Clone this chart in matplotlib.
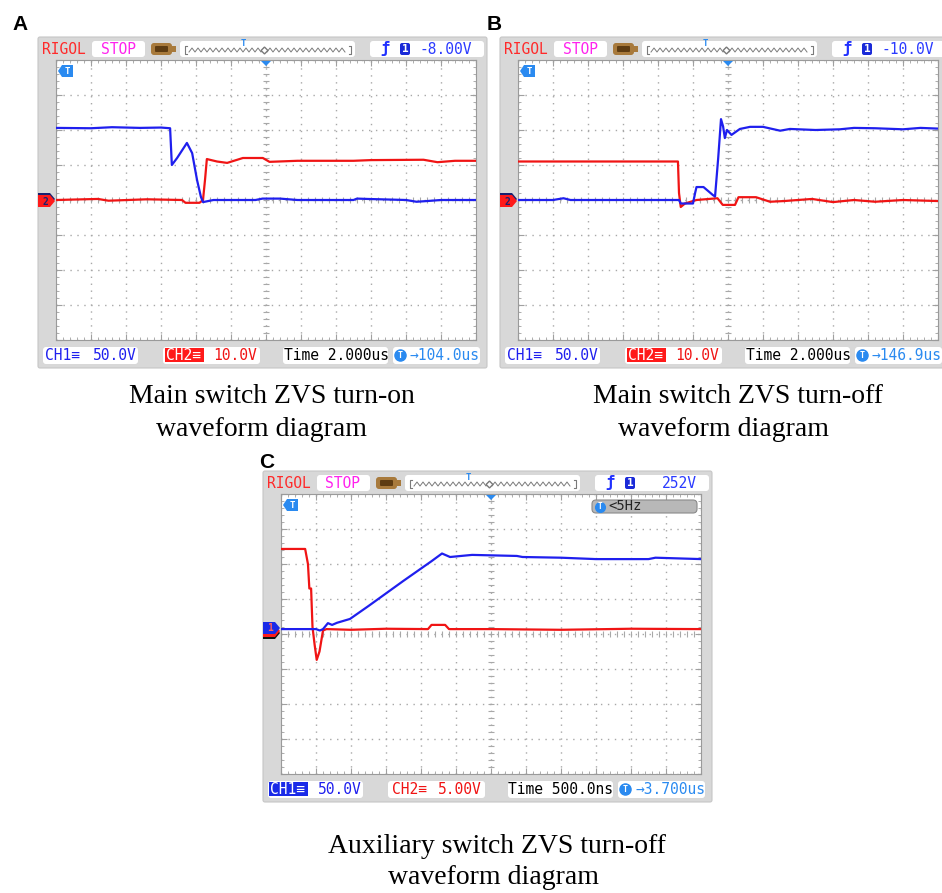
import numpy as np
import matplotlib.pyplot as plt
from matplotlib.patches import Rectangle, FancyBboxPatch, Polygon
from matplotlib.ticker import MultipleLocator

W, H = 942, 893

# waveforms: time in divisions (0..12), level in divisions from screen centre
a_blue_t = [0, 1.0, 1.6, 2.4, 3.0, 3.26, 3.31, 3.46, 3.74, 3.89, 4.03, 4.14, 4.2, 4.5,
            5.7, 5.9, 6.4, 6.9, 8.5, 8.6, 8.9, 10.0, 10.3, 10.6, 11.0, 12.0]
a_blue_v = [2.06, 2.05, 2.08, 2.06, 2.07, 2.05, 1.0, 1.2, 1.63, 1.34, 0.57, 0.09, -0.06, 0.0,
            0.0, 0.04, 0.04, 0.0, 0.0, 0.04, 0.03, 0.0, -0.05, -0.03, 0.0, 0.0]
a_red_t = [0, 1.2, 1.5, 2.6, 3.6, 3.7, 4.1, 4.2, 4.26, 4.31, 4.6, 4.89, 5.34, 5.91, 6.1,
           6.9, 7.46, 8.5, 9.0, 10.5, 10.9, 11.4, 12]
a_red_v = [0, 0.03, -0.02, 0.02, 0, -0.08, -0.08, 0.0, 0.6, 1.17, 1.1, 1.06, 1.2, 1.2, 1.09,
           1.12, 1.12, 1.12, 1.14, 1.15, 1.08, 1.12, 1.12]

b_blue_t = [0, 1.0, 1.3, 1.5, 4.6, 4.65, 5.0, 5.06, 5.1, 5.3, 5.57, 5.63, 5.72, 5.8, 5.86,
            5.91, 5.97, 6.1, 6.34, 6.63, 7.0, 7.49, 7.77, 8.5, 9.2, 9.6, 10.2, 11.0, 11.5, 12]
b_blue_v = [0, 0, 0.05, 0, 0, -0.1, -0.1, 0.2, 0.37, 0.37, 0.14, 0.1, 1.2, 2.31, 2.1,
            1.77, 2.0, 1.86, 2.03, 2.09, 2.09, 1.98, 2.03, 2.0, 2.02, 2.06, 2.05, 2.02, 2.06, 2.04]
b_red_t = [0, 4.57, 4.6, 4.65, 4.77, 5.1, 5.7, 5.85, 6.2, 6.3, 6.8, 7.2, 7.6, 8.4, 9.0,
           9.6, 10.2, 11.0, 12]
b_red_v = [1.1, 1.1, 0.2, -0.2, -0.1, 0, 0.05, -0.14, -0.14, 0.08, 0.08, -0.05, -0.03, 0.03,
           -0.06, 0.0, -0.05, 0.0, -0.03]

c_blue_t = [0, 1.0, 1.11, 1.2, 1.34, 1.46, 1.6, 1.97, 2.5, 3.0, 3.5, 4.0, 4.3, 4.6, 4.83,
            5.46, 6.74, 6.9, 8.0, 9.0, 10.5, 10.7, 12]
c_blue_v = [0.14, 0.14, 0.1, 0.14, 0.31, 0.26, 0.32, 0.43, 0.8, 1.16, 1.52, 1.87, 2.08, 2.3,
            2.2, 2.26, 2.23, 2.2, 2.18, 2.14, 2.14, 2.18, 2.14]
c_red_t = [0, 0.69, 0.77, 0.81, 0.86, 0.9, 0.96, 1.02, 1.1, 1.2, 1.3, 2.0, 3.0, 4.2, 4.3,
           4.69, 4.8, 6.0, 8.0, 10.0, 12]
c_red_v = [2.43, 2.43, 2.0, 1.3, 1.3, 0.2, -0.3, -0.74, -0.5, 0.1, 0.14, 0.12, 0.15, 0.14,
           0.26, 0.26, 0.14, 0.14, 0.12, 0.15, 0.14]

traces = [(a_blue_t, a_blue_v, a_red_t, a_red_v),
          (b_blue_t, b_blue_v, b_red_t, b_red_v),
          (c_blue_t, c_blue_v, c_red_t, c_red_v)]

# screen texts
panel_labels = ['A', 'B', 'C']
trig_levels = ['-8.00V', '-10.0V', '252V']
ch1_scales = ['50.0V', '50.0V', '50.0V']
ch2_scales = ['10.0V', '10.0V', '5.00V']
time_bases = ['2.000us', '2.000us', '500.0ns']
trig_offsets = ['104.0us', '146.9us', '3.700us']
captions = [('Main switch ZVS turn-on', 'waveform diagram'),
            ('Main switch ZVS turn-off', 'waveform diagram'),
            ('Auxiliary switch ZVS turn-off', 'waveform diagram')]

# grid top-left corner of each screen, in pixels
grid_pos = [(56, 60), (518, 60), (281, 494)]

MONO = 'DejaVu Sans Mono'
BLUE = '#1f1fee'
RED = '#f01414'
LBLUE = '#2a8af0'

fig = plt.figure(figsize=(W / 100, H / 100), dpi=100)
bg = fig.add_axes([0, 0, 1, 1])
bg.set_xlim(0, W)
bg.set_ylim(H, 0)
bg.axis('off')


def rbox(ax, x0, y0, x1, y1, fc, r=3, ec='none', z=2):
    ax.add_patch(FancyBboxPatch((x0, y0), x1 - x0, y1 - y0,
                                boxstyle=f'round,pad=0,rounding_size={r}',
                                fc=fc, ec=ec, lw=0.8, zorder=z))


def txt(ax, x, y, s, c, size=10, ha='left', **kw):
    ax.text(x, y, s, color=c, fontsize=size, ha=ha, va='center', family=MONO, zorder=5, **kw)


for i, (gx, gy) in enumerate(grid_pos):
    # scope body
    rbox(bg, gx - 18, gy - 23, gx + 431, gy + 308, '#d8d8d8', r=2, ec='#c6c6c6', z=1)

    # header row
    hy = gy - 11
    txt(bg, gx - 14, hy, 'RIGOL', '#ff2a2a', 10.5)
    rbox(bg, gx + 36, hy - 8, gx + 89, hy + 8, 'white')
    txt(bg, gx + 62, hy, 'STOP', '#ff22ee', 10.5, ha='center')
    rbox(bg, gx + 95, hy - 6, gx + 116, hy + 6, '#a87a3c', r=3)
    rbox(bg, gx + 99, hy - 3, gx + 112, hy + 3, '#5e3c12', r=1, z=3)
    bg.add_patch(Rectangle((gx + 116, hy - 3), 4, 6, fc='#a87a3c', zorder=2))
    rbox(bg, gx + 124, hy - 8, gx + 299, hy + 8, 'white')
    zx = np.arange(gx + 133, gx + 291, 3.0)
    zy = hy + 1 + 2.0 * (-1) ** np.arange(len(zx))
    bg.plot(zx, zy, color='#7a7a7a', lw=0.7, zorder=4)
    bg.plot([gx + 131, gx + 129, gx + 129, gx + 131], [hy - 3, hy - 3, hy + 5, hy + 5],
            color='#7a7a7a', lw=0.8, zorder=4)
    bg.plot([gx + 293, gx + 295, gx + 295, gx + 293], [hy - 3, hy - 3, hy + 5, hy + 5],
            color='#7a7a7a', lw=0.8, zorder=4)
    txt(bg, gx + 187, hy - 6, 'T', LBLUE, 6.5, ha='center', weight='bold')
    bg.plot([gx + 208], [hy + 1], marker='D', ms=3.5, mfc='white', mec='#7a7a7a', zorder=5)
    rbox(bg, gx + 314, hy - 8, gx + 428, hy + 8, 'white')
    txt(bg, gx + 329, hy, 'ƒ', '#2030ff', 11, ha='center', weight='bold')
    rbox(bg, gx + 344, hy - 6, gx + 354, hy + 6, '#1a2ad8', r=2, z=3)
    txt(bg, gx + 349, hy, '1', 'white', 8, ha='center', weight='bold')
    txt(bg, gx + 416, hy, trig_levels[i], '#2b3bff', 10.5, ha='right')

    # footer row
    fy = gy + 295
    rbox(bg, gx - 13, fy - 8, gx + 82, fy + 9, 'white')
    rbox(bg, gx + 107, fy - 8, gx + 204, fy + 9, 'white')
    rbox(bg, gx + 227, fy - 8, gx + 332, fy + 9, 'white')
    rbox(bg, gx + 337, fy - 8, gx + 424, fy + 9, 'white')
    if i == 2:
        bg.add_patch(Rectangle((gx - 12, fy - 7), 39, 14, fc='#1a2ae8', zorder=3))
        txt(bg, gx - 11, fy, 'CH1≡', 'white', 10.5)
        txt(bg, gx + 111, fy, 'CH2≡', RED, 10.5)
    else:
        txt(bg, gx - 11, fy, 'CH1≡', BLUE, 10.5)
        bg.add_patch(Rectangle((gx + 109, fy - 7), 39, 14, fc='#ff1a1a', zorder=3))
        txt(bg, gx + 110, fy, 'CH2≡', 'white', 10.5)
    txt(bg, gx + 81, fy, ch1_scales[i], BLUE, 10.5, ha='right')
    txt(bg, gx + 201, fy, ch2_scales[i], RED, 10.5, ha='right')
    txt(bg, gx + 280, fy, 'Time ' + time_bases[i], 'black', 10.5, ha='center')
    bg.plot([gx + 344], [fy], marker='o', ms=8, color=LBLUE, zorder=4)
    txt(bg, gx + 344, fy, 'T', 'white', 6, ha='center', weight='bold')
    txt(bg, gx + 424, fy, '→' + trig_offsets[i], LBLUE, 10.5, ha='right')

    # screen
    ax = fig.add_axes([gx / W, 1 - (gy + 280) / H, 420 / W, 280 / H])
    ax.set_xlim(0, 12)
    ax.set_ylim(-4, 4)
    ax.set_xticks(range(13))
    ax.set_yticks(range(-4, 5))
    ax.xaxis.set_minor_locator(MultipleLocator(0.2))
    ax.yaxis.set_minor_locator(MultipleLocator(0.2))
    ax.tick_params(which='both', direction='in', top=True, right=True,
                   labelbottom=False, labelleft=False, color='#a0a0a0')
    ax.tick_params(which='major', length=4, width=0.8)
    ax.tick_params(which='minor', length=2.5, width=0.6)
    ax.grid(True, color='#a8a8a8', linestyle=(0, (1, 4)), lw=1.0)
    for sp in ax.spines.values():
        sp.set_color('#9a9a9a')
        sp.set_linewidth(0.8)
    ticks = np.arange(-4, 4.01, 0.2)
    ax.plot(np.full(len(ticks), 6.0), ticks, ls='none', marker='_', ms=5, mew=0.8, color='#a8a8a8')
    ticks = np.arange(0, 12.01, 0.2)
    ax.plot(ticks, np.zeros(len(ticks)), ls='none', marker='|', ms=5, mew=0.8, color='#a8a8a8')

    bt, bv, rt, rv = traces[i]
    ax.plot(rt, rv, color=RED, lw=1.6, zorder=4)
    ax.plot(bt, bv, color=BLUE, lw=1.6, zorder=5)

# overlay for screen markers
fg = fig.add_axes([0, 0, 1, 1], facecolor='none')
fg.set_xlim(0, W)
fg.set_ylim(H, 0)
fg.axis('off')


def pent(x, y, fc, ec='none'):
    fg.add_patch(Polygon([(x - 9, y - 6), (x + 3, y - 6), (x + 8, y), (x + 3, y + 6), (x - 9, y + 6)],
                         closed=True, fc=fc, ec=ec, lw=0.6, zorder=6))


for i, (gx, gy) in enumerate(grid_pos):
    # trigger position mark and T tag
    fg.add_patch(Polygon([(gx + 205, gy + 1), (gx + 215, gy + 1), (gx + 210, gy + 6)],
                         closed=True, fc=LBLUE, zorder=6))
    fg.add_patch(Polygon([(gx + 2, gy + 11), (gx + 6, gy + 5), (gx + 17, gy + 5), (gx + 17, gy + 17),
                          (gx + 6, gy + 17)], closed=True, fc=LBLUE, zorder=6))
    fg.text(gx + 11, gy + 11, 'T', color='white', fontsize=6.5, weight='bold',
            ha='center', va='center', family=MONO, zorder=7)
    if i == 2:
        my = gy + 135
        pent(gx - 9, my + 4, '#111111')
        pent(gx - 9, my + 2, '#ff1a1a')
        pent(gx - 9, my - 1, '#1a2ae8')
        fg.text(gx - 11, my - 1, '1', color='#ff6060', fontsize=7, weight='bold',
                ha='center', va='center', family=MONO, zorder=7)
        rbox(fg, gx + 311, gy + 6, gx + 416, gy + 19, '#b8b8b8', r=4, ec='#8a8a8a', z=6)
        fg.plot([gx + 319], [gy + 12.5], marker='o', ms=7, color=LBLUE, zorder=7)
        fg.text(gx + 319, gy + 12.5, 'T', color='white', fontsize=5.5, weight='bold',
                ha='center', va='center', family=MONO, zorder=8)
        fg.text(gx + 327, gy + 12.5, '<5Hz', color='#222222', fontsize=10, ha='left',
                va='center', family=MONO, zorder=7)
    else:
        my = gy + 141
        pent(gx - 9, my - 2, '#1a2070')
        pent(gx - 9, my, '#ff1a1a')
        fg.text(gx - 11, my + 1, '2', color='#1a2070', fontsize=7, weight='bold',
                ha='center', va='center', family=MONO, zorder=7)

# panel letters and captions
label_pos = [(12, 30), (487, 30), (259, 468)]
for (lx, ly), lab in zip(label_pos, panel_labels):
    fg.text(lx, ly, lab, fontsize=15, weight='bold', family='Liberation Sans',
            ha='left', va='baseline', color='black')

cap_pos = [((272, 403), (261, 436)), ((738, 403), (724, 436)), ((497, 853), (493, 884))]
for (p1, p2), (l1, l2) in zip(cap_pos, captions):
    fg.text(p1[0], p1[1], l1, fontsize=20, family='Liberation Serif', ha='center', va='baseline')
    fg.text(p2[0], p2[1], l2, fontsize=20, family='Liberation Serif', ha='center', va='baseline')

fig.savefig('out.png', dpi=100, facecolor='white')
